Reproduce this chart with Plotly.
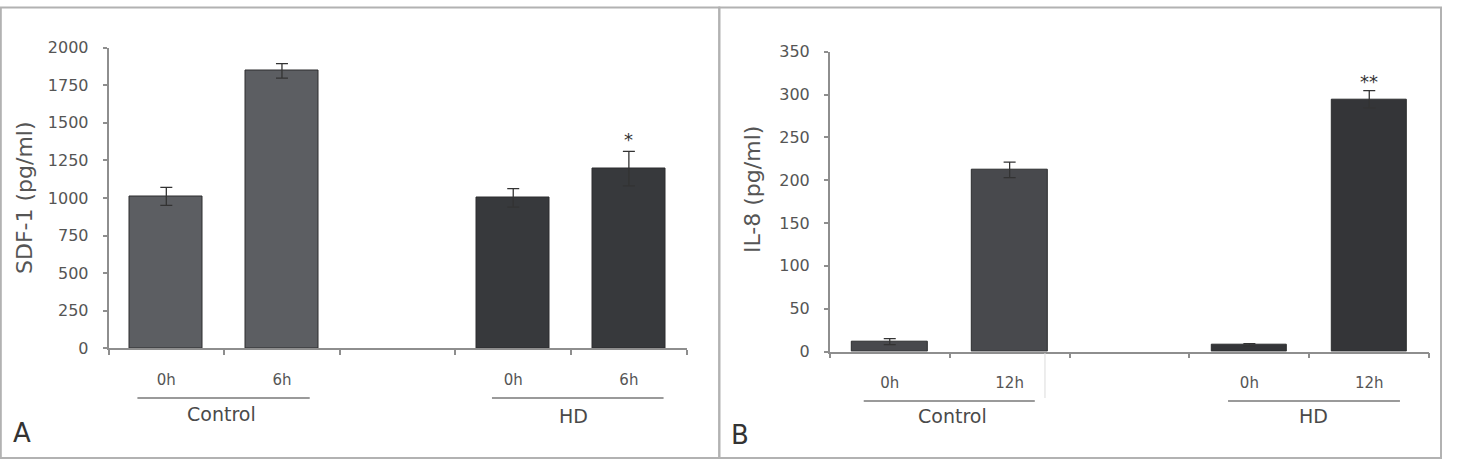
import plotly.graph_objects as go

# ---------------- data ----------------
a_times = ["0h", "6h", "0h", "6h"]
a_groups = ["Control", "Control", "HD", "HD"]
a_means = [1010, 1845, 1000, 1195]
a_errors = [60, 48, 62, 115]
a_marks = ["", "", "", "*"]
a_yticks = [0, 250, 500, 750, 1000, 1250, 1500, 1750, 2000]
a_title = "SDF-1 (pg/ml)"
a_letter = "A"

b_times = ["0h", "12h", "0h", "12h"]
b_groups = ["Control", "Control", "HD", "HD"]
b_means = [11.5, 212, 7.8, 294.5]
b_errors = [3.5, 9, 1.5, 10]
b_marks = ["", "", "", "**"]
b_yticks = [0, 50, 100, 150, 200, 250, 300, 350]
b_title = "IL-8 (pg/ml)"
b_letter = "B"

group_names = ["Control", "HD"]

# ---------------- layout helpers ----------------
W, H = 1459, 463
FONT = "DejaVu Sans"
AXC = "#8e8e8e"
TXT = "#555555"


def px(x):
    return x / W


def py(y):
    return 1 - y / H


fig = go.Figure()


def slot_positions(groups):
    pos = []
    for g in groups:
        gi = group_names.index(g)
        k = sum(1 for p in pos if p // 3 == gi)
        pos.append(gi * 3 + k)
    return pos


panels = [
    dict(times=a_times, groups=a_groups, means=a_means, errors=a_errors, marks=a_marks,
         yticks=a_yticks, title=a_title, letter=a_letter, xa="x", ya="y",
         colors={"Control": "#5c5e62", "HD": "#37393c"},
         xdom=(108.5, 686.7), ydom=(348.3, 47.5),
         line_y=398, lines=[(-0.25, 1.24), (2.816, 4.30)],
         glab_y=[413.5, 415.5], glab_x=[0.473, 3.522],
         title_xy=(24, 198), letter_xy=(22, 433), star_shift=11.5),
    dict(times=b_times, groups=b_groups, means=b_means, errors=b_errors, marks=b_marks,
         yticks=b_yticks, title=b_title, letter=b_letter, xa="x2", ya="y2",
         colors={"Control": "#48494d", "HD": "#343538"},
         xdom=(829.8, 1429.2), ydom=(351.5, 51.7),
         line_y=401, lines=[(-0.217, 1.21), (2.822, 4.256)],
         glab_y=[415.5, 415.5], glab_x=[0.522, 3.537],
         title_xy=(752, 190), letter_xy=(740, 435), star_shift=9),
]

annotations = []
shapes = []

for i, p in enumerate(panels):
    pos = slot_positions(p["groups"])
    for g in group_names:
        idx = [j for j, gg in enumerate(p["groups"]) if gg == g]
        fig.add_trace(go.Bar(
            x=[pos[j] for j in idx],
            y=[p["means"][j] for j in idx],
            width=0.63,
            marker=dict(color=p["colors"][g], line=dict(color="#2c2d2f", width=1)),
            error_y=dict(type="data", array=[p["errors"][j] for j in idx],
                         color="#333333", thickness=1.3, width=6),
            xaxis=p["xa"], yaxis=p["ya"], showlegend=False, hoverinfo="skip",
        ))
    suffix = "" if i == 0 else "2"
    nslots = 3 * len(group_names) - 1
    fig.update_layout(**{
        "xaxis" + suffix: dict(
            domain=[px(p["xdom"][0]), px(p["xdom"][1])],
            range=[-0.5, nslots - 0.5],
            anchor="y" + suffix, automargin=False,
            showline=True, linecolor=AXC, linewidth=1.6,
            showgrid=False, zeroline=False,
            tickmode="array", tickvals=pos, ticktext=p["times"],
            ticks="", ticklabelstandoff=17,
            tickfont=dict(family=FONT, size=15, color=TXT),
            minor=dict(tickmode="array",
                       tickvals=[k - 0.5 for k in range(nslots + 1)],
                       ticks="outside", ticklen=5, tickcolor=AXC, tickwidth=1.5,
                       showgrid=False),
            fixedrange=True,
        ),
        "yaxis" + suffix: dict(
            domain=[py(p["ydom"][0]), py(p["ydom"][1])],
            range=[p["yticks"][0], p["yticks"][-1]],
            anchor="x" + suffix, automargin=False,
            showline=True, linecolor=AXC, linewidth=1.6,
            showgrid=False, zeroline=False,
            tickmode="array", tickvals=p["yticks"],
            ticks="outside", ticklen=4, tickcolor=AXC, tickwidth=1.5,
            ticklabelstandoff=11,
            tickfont=dict(family=FONT, size=16, color=TXT),
            fixedrange=True,
        ),
    })
    # significance marks
    for j, m in enumerate(p["marks"]):
        if m:
            annotations.append(dict(
                x=pos[j], y=p["means"][j] + p["errors"][j], xref=p["xa"], yref=p["ya"],
                text=m, showarrow=False, yanchor="middle", yshift=p["star_shift"],
                font=dict(family=FONT, size=18, color="#333333")))
    # group lines and labels
    for gi, g in enumerate(group_names):
        x0, x1 = p["lines"][gi]
        shapes.append(dict(type="line", xref=p["xa"], yref="paper",
                           x0=x0, x1=x1, y0=py(p["line_y"]), y1=py(p["line_y"]),
                           line=dict(color="#9a9a9a", width=2)))
        annotations.append(dict(
            x=p["glab_x"][gi], y=py(p["glab_y"][gi]), xref=p["xa"], yref="paper",
            text=g, showarrow=False, xanchor="center", yanchor="middle",
            font=dict(family=FONT, size=19, color="#4a4a4a")))
    # axis title
    annotations.append(dict(
        x=px(p["title_xy"][0]), y=py(p["title_xy"][1]), xref="paper", yref="paper",
        text=p["title"], textangle=-90, showarrow=False,
        xanchor="center", yanchor="middle",
        font=dict(family=FONT, size=22, color=TXT)))
    # panel letter
    annotations.append(dict(
        x=px(p["letter_xy"][0]), y=py(p["letter_xy"][1]), xref="paper", yref="paper",
        text=p["letter"], showarrow=False, xanchor="center", yanchor="middle",
        font=dict(family=FONT, size=26, color="#333333")))

# faint artefact line in panel B
shapes.append(dict(type="line", xref="x2", yref="paper", x0=1.295, x1=1.295,
                   y0=py(398), y1=py(353), line=dict(color="#dcdcdc", width=1)))

# outer frames
FR = "#b2b2b2"
shapes.append(dict(type="rect", xref="paper", yref="paper",
                   x0=px(0.8), x1=px(719.3), y0=py(458), y1=py(7.5),
                   line=dict(color=FR, width=2)))
shapes.append(dict(type="rect", xref="paper", yref="paper",
                   x0=px(719.3), x1=px(1441), y0=py(458), y1=py(7.5),
                   line=dict(color=FR, width=2)))

fig.update_layout(
    width=W, height=H,
    margin=dict(l=0, r=0, t=0, b=0, pad=0, autoexpand=False),
    paper_bgcolor="white", plot_bgcolor="white",
    bargap=0, showlegend=False,
    annotations=annotations, shapes=shapes,
    font=dict(family=FONT, color=TXT),
)

fig.write_html("out.html")
